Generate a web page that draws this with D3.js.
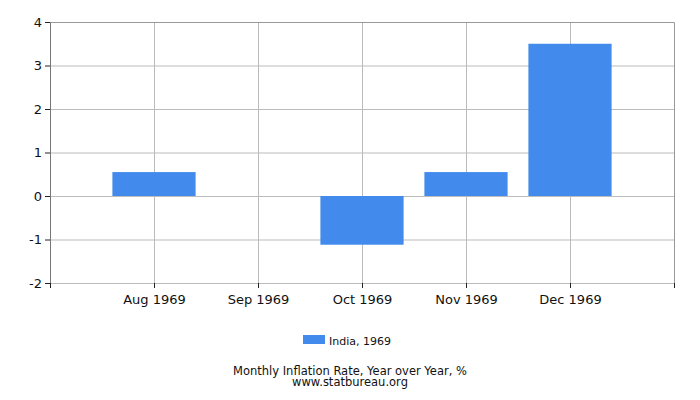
<!DOCTYPE html>
<html>
<head>
<meta charset="utf-8">
<script src="https://cdn.jsdelivr.net/npm/d3@7"></script>
<style>
  body { margin: 0; background: #fff; }
  text { font-family: "DejaVu Sans", sans-serif; fill: #111; }
</style>
</head>
<body>
<div id="chart"></div>
<script>
// Chart data
const months = ["Aug 1969", "Sep 1969", "Oct 1969", "Nov 1969", "Dec 1969"];
const rates = [0.55, null, -1.12, 0.55, 3.5];
const yTicks = [-2, -1, 0, 1, 2, 3, 4];
const seriesName = "India, 1969";

const W = 700, H = 400;
const margin = { top: 22, right: 26, bottom: 117, left: 50 };
const width = W - margin.left - margin.right;
const height = H - margin.top - margin.bottom;
const barColor = "#428bed";

const svg = d3.select("#chart").append("svg")
  .attr("width", W).attr("height", H);

const g = svg.append("g")
  .attr("transform", "translate(" + margin.left + "," + margin.top + ")");

// Scales: one empty slot either side of the months
const x = d3.scalePoint().domain(months).range([0, width]).padding(1);
const step = x.step();
const y = d3.scaleLinear().domain([-2, 4]).range([height, 0]);

// Horizontal grid
g.append("g").selectAll("line").data(yTicks).join("line")
  .attr("x1", 0).attr("x2", width)
  .attr("y1", d => y(d) + 0.5).attr("y2", d => y(d) + 0.5)
  .attr("stroke", "#bbb");

// Vertical grid
g.append("g").selectAll("line").data(months).join("line")
  .attr("x1", d => Math.round(x(d)) + 0.5).attr("x2", d => Math.round(x(d)) + 0.5)
  .attr("y1", 0).attr("y2", height)
  .attr("stroke", "#bbb");

// Frame top / right
g.append("path")
  .attr("d", "M0.5,0.5H" + (width + 0.5) + "V" + height)
  .attr("fill", "none").attr("stroke", "#999");

// Bars
g.append("g").selectAll("rect").data(months.map((m, i) => ({ m, v: rates[i] })).filter(d => d.v != null))
  .join("rect")
  .attr("x", d => x(d.m) - step * 0.4)
  .attr("width", step * 0.8)
  .attr("y", d => y(Math.max(0, d.v)))
  .attr("height", d => Math.abs(y(d.v) - y(0)))
  .attr("fill", barColor);

// Y axis (plain hyphen minus like the original)
const yAxis = g.append("g")
  .call(d3.axisLeft(y).tickValues(yTicks).tickSize(5).tickPadding(3).tickFormat(d => String(d)));
yAxis.select(".domain").attr("stroke", "#777");
yAxis.selectAll(".tick line").attr("stroke", "#222");
yAxis.selectAll("text").style("font-size", "13px");

// X axis
const xAxis = g.append("g")
  .attr("transform", "translate(0," + height + ")")
  .call(d3.axisBottom(x).tickSize(0).tickPadding(12));
xAxis.select(".domain").attr("stroke", "#bbb");
xAxis.selectAll("text").style("font-size", "13px");

// X tick marks at slot boundaries
const edges = [0].concat(months.map(m => x(m)), [width]);
g.append("g").selectAll("line").data(edges).join("line")
  .attr("x1", d => Math.round(d) + 0.5).attr("x2", d => Math.round(d) + 0.5)
  .attr("y1", height).attr("y2", height + 5)
  .attr("stroke", "#222");

// Legend
const legend = svg.append("g").attr("transform", "translate(303,335)");
legend.append("rect").attr("width", 22).attr("height", 9).attr("fill", barColor);
legend.append("text").attr("x", 26).attr("y", 10)
  .style("font-size", "11px").text(seriesName);

// Caption
svg.append("text").attr("x", 350).attr("y", 375).attr("text-anchor", "middle")
  .style("font-size", "11.5px").text("Monthly Inflation Rate, Year over Year, %");
svg.append("text").attr("x", 350).attr("y", 386).attr("text-anchor", "middle")
  .style("font-size", "11.5px").text("www.statbureau.org");
</script>
</body>
</html>
